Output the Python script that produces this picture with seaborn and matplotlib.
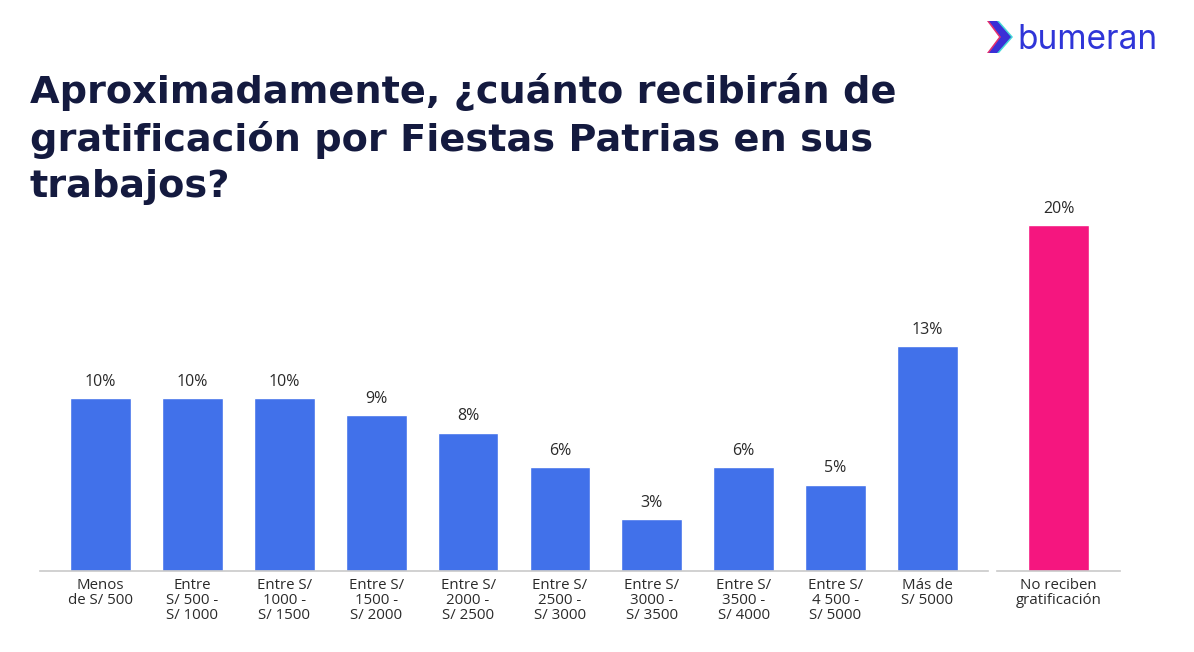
import matplotlib
matplotlib.use("Agg")
import matplotlib.pyplot as plt
import seaborn as sns
import pandas as pd
from matplotlib.patches import Polygon

categories = ["Menos\nde S/ 500", "Entre\nS/ 500 -\nS/ 1000", "Entre S/\n1000 -\nS/ 1500",
              "Entre S/\n1500 -\nS/ 2000", "Entre S/\n2000 -\nS/ 2500", "Entre S/\n2500 -\nS/ 3000",
              "Entre S/\n3000 -\nS/ 3500", "Entre S/\n3500 -\nS/ 4000", "Entre S/\n4 500 -\nS/ 5000",
              "Más de\nS/ 5000"]
values = [10, 10, 10, 9, 8, 6, 3, 6, 5, 13]
no_cat = ["No reciben\ngratificación"]
no_val = [20]

title = "Aproximadamente, ¿cuánto recibirán de\ngratificación por Fiestas Patrias en sus\ntrabajos?"

BLUE = "#4171EA"
PINK = "#F5167F"
NAVY = "#141A3F"
TXT = "#2a2a2a"

sns.set_theme(style="white")
plt.rcParams["font.family"] = ["Open Sans", "DejaVu Sans"]

W, H = 1194, 652
fig = plt.figure(figsize=(W / 100, H / 100), dpi=100)
fig.patch.set_facecolor("white")

ppp = 17.3  # px per percent
ymax = 25
base_y = 571
ax_h = ymax * ppp
ax1 = fig.add_axes([40 / W, (H - base_y) / H, (988 - 40) / W, ax_h / H])
ax2 = fig.add_axes([997 / W, (H - base_y) / H, (1120 - 997) / W, ax_h / H])

df1 = pd.DataFrame({"cat": categories, "val": values})
df2 = pd.DataFrame({"cat": no_cat, "val": no_val})

sns.barplot(data=df1, x="cat", y="val", color=BLUE, saturation=1, width=0.66, ax=ax1)
sns.barplot(data=df2, x="cat", y="val", color=PINK, saturation=1, width=0.66, ax=ax2)

for ax, vals, xl in [(ax1, values, (-0.66, 9.66)), (ax2, no_val, (-0.67, 0.67))]:
    ax.set_xlim(*xl)
    ax.set_ylim(0, ymax)
    ax.set_facecolor("none")
    for s in ["top", "right", "left"]:
        ax.spines[s].set_visible(False)
    ax.spines["bottom"].set_color("#c9c9c9")
    ax.spines["bottom"].set_linewidth(1.2)
    ax.set_yticks([])
    ax.set_xlabel("")
    ax.set_ylabel("")
    ax.tick_params(axis="x", length=0, pad=5)
    for lab in ax.get_xticklabels():
        lab.set_fontsize(10.8)
        lab.set_color(TXT)
        lab.set_linespacing(1.02)
        lab.set_verticalalignment("top")
    for c in ax.containers:
        ax.bar_label(c, labels=[f"{v}%" for v in vals], padding=6, fontsize=11.5, color=TXT)

fig.text(30 / W, 1 - 73 / H, title, ha="left", va="top", fontsize=27.5, fontweight="bold",
         color=NAVY, linespacing=1.34, family=["DejaVu Sans"])

# logo
lx, ly = 987, 37
def px(x, y):
    return (x / W, 1 - y / H)
chev = [(0, -16), (8, -16), (22, 0), (8, 16), (0, 16), (12, 0)]
for dx, col in [(4, "#2fd3d3"), (0, "#e0185f"), (2, "#3b2fd6")]:
    pts = [px(lx + dx + a, ly + b) for a, b in chev]
    fig.patches.append(Polygon(pts, closed=True, transform=fig.transFigure,
                               facecolor=col, edgecolor="none", alpha=0.9 if col != "#3b2fd6" else 1))
fig.text(1017 / W, 1 - 40 / H, "bumeran", ha="left", va="center", fontsize=24,
         color="#2F35D8", family=["Inter", "DejaVu Sans"])

fig.savefig("out.png", dpi=100, facecolor="white")
